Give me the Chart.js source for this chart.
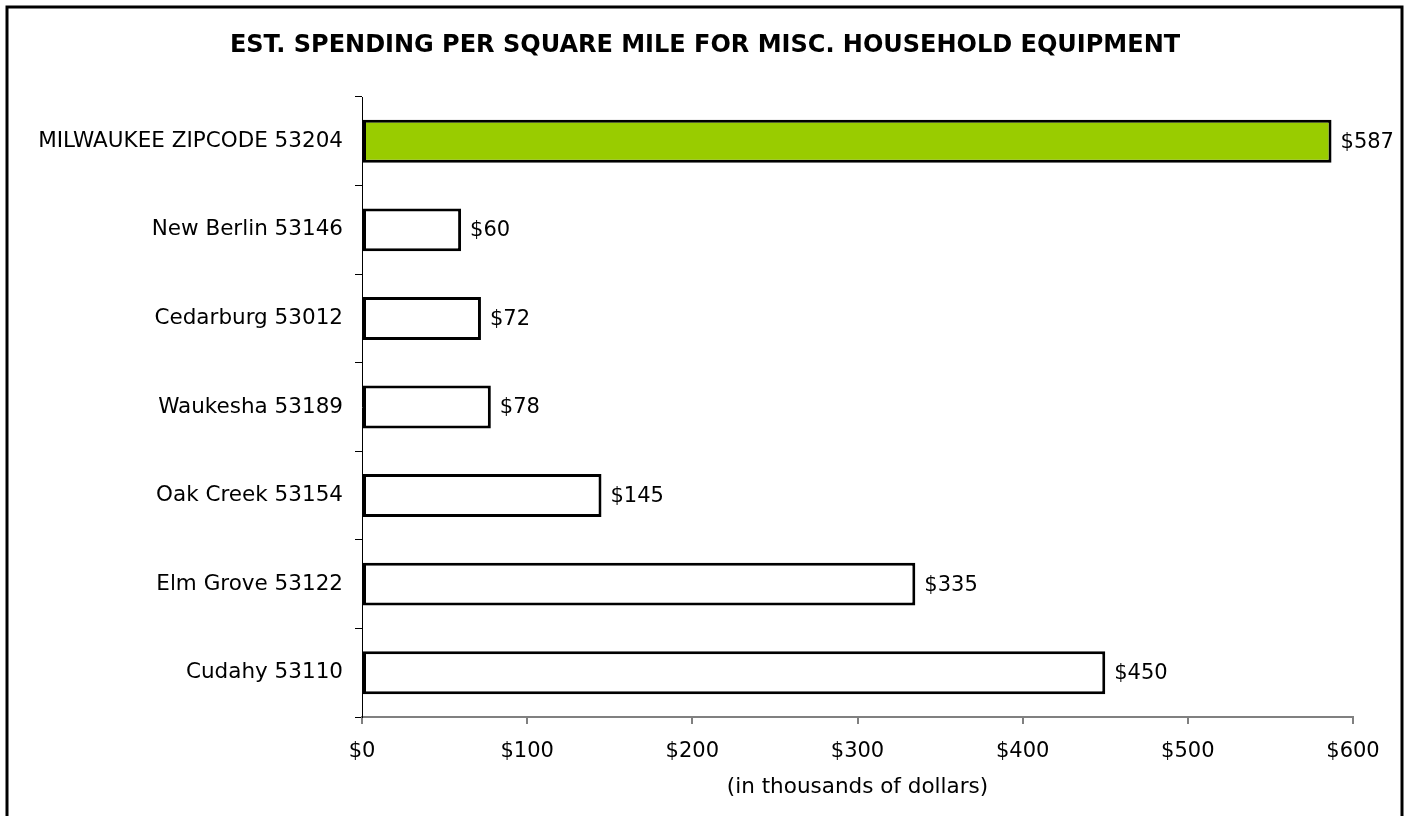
<!DOCTYPE html>
<html>
<head>
<meta charset="utf-8">
<script src="https://cdn.jsdelivr.net/npm/chart.js@4/dist/chart.umd.min.js"></script>
<style>
  html, body { margin: 0; padding: 0; background: #fff; }
  #wrap { width: 1410px; height: 816px; position: relative; }
</style>
</head>
<body>
<div id="wrap"><canvas id="c" width="1410" height="816"></canvas></div>
<script>
const chartTitle = "EST. SPENDING PER SQUARE MILE FOR MISC. HOUSEHOLD EQUIPMENT";
const xAxisTitle = "(in thousands of dollars)";
const categories = [
  "MILWAUKEE ZIPCODE 53204",
  "New Berlin 53146",
  "Cedarburg 53012",
  "Waukesha 53189",
  "Oak Creek 53154",
  "Elm Grove 53122",
  "Cudahy 53110"
];
const values = [587, 60, 72, 78, 145, 335, 450];
const barColors = ["#99CC00", "#FFFFFF", "#FFFFFF", "#FFFFFF", "#FFFFFF", "#FFFFFF", "#FFFFFF"];
const xTickMin = 0, xTickMax = 600, xTickStep = 100;

const FONT = "'DejaVu Sans', Verdana, sans-serif";

const framePlugin = {
  id: 'frame',
  afterLayout(chart) {
    // center the title across the whole canvas
    if (chart.titleBlock) {
      chart.titleBlock.left = 0;
      chart.titleBlock.right = chart.width;
    }
  },
  beforeDraw(chart) {
    const ctx = chart.ctx;
    ctx.save();
    ctx.fillStyle = '#fff';
    ctx.fillRect(0, 0, chart.width, chart.height);
    ctx.restore();
  },
  afterDraw(chart) {
    const ctx = chart.ctx;
    ctx.save();
    ctx.strokeStyle = '#000';
    ctx.lineWidth = 3;
    ctx.strokeRect(7, 7, 1395, 900);
    ctx.restore();
  }
};

const valueLabels = {
  id: 'valueLabels',
  afterDatasetsDraw(chart) {
    const ctx = chart.ctx;
    const meta = chart.getDatasetMeta(0);
    ctx.save();
    ctx.font = "21px " + FONT;
    ctx.fillStyle = '#000';
    ctx.textAlign = 'left';
    ctx.textBaseline = 'middle';
    meta.data.forEach((el, i) => {
      ctx.fillText('$' + values[i], el.x + 9, el.y + 1);
    });
    ctx.restore();
  }
};

new Chart(document.getElementById('c'), {
  type: 'bar',
  data: {
    labels: categories,
    datasets: [{
      data: values,
      backgroundColor: barColors,
      borderColor: '#000',
      borderWidth: 3,
      borderSkipped: false,
      categoryPercentage: 1.0,
      barPercentage: 0.485
    }]
  },
  options: {
    indexAxis: 'y',
    responsive: false,
    animation: false,
    devicePixelRatio: 1,
    layout: { padding: { left: 0, right: 57, top: 0, bottom: 0 } },
    plugins: {
      legend: { display: false },
      tooltip: { enabled: false },
      title: {
        display: true,
        text: chartTitle,
        color: '#000',
        font: { family: FONT, size: 24, weight: 'bold', lineHeight: 1.2 },
        padding: { top: 31.6, bottom: 36.6 }
      }
    },
    scales: {
      x: {
        type: 'linear',
        min: xTickMin,
        max: xTickMax,
        ticks: {
          stepSize: xTickStep,
          color: '#000',
          font: { family: FONT, size: 21 },
          padding: 15,
          callback: v => '$' + v
        },
        grid: { drawOnChartArea: false, drawTicks: true, tickLength: 7, color: '#808080', lineWidth: 2 },
        border: { display: true, color: '#808080', width: 2 },
        title: {
          display: true,
          text: xAxisTitle,
          color: '#000',
          font: { family: FONT, size: 21.5 },
          padding: { top: 0, bottom: 16 }
        },
        afterFit(scale) { scale.height = 99; }
      },
      y: {
        type: 'category',
        offset: true,
        ticks: {
          color: '#000',
          font: { family: FONT, size: 21.5 },
          padding: 12
        },
        grid: { offset: true, drawOnChartArea: false, drawTicks: true, tickLength: 7, color: '#000', lineWidth: 1 },
        border: { display: true, color: '#000', width: 1 },
        afterFit(scale) { scale.width = 362; }
      }
    }
  },
  plugins: [framePlugin, valueLabels]
});
</script>
</body>
</html>
